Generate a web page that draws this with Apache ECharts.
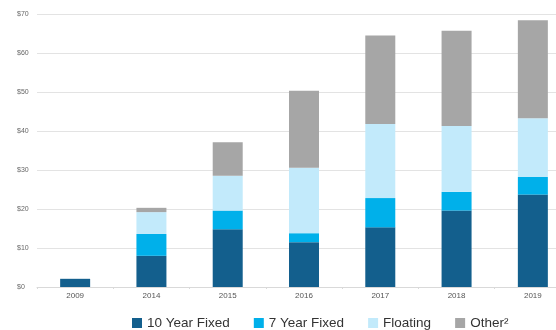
<!DOCTYPE html>
<html><head><meta charset="utf-8">
<script src="https://cdn.jsdelivr.net/npm/echarts@6/dist/echarts.min.js"></script>
<style>html,body{margin:0;padding:0;background:#fff}#c{width:556px;height:330px}</style>
</head><body><div id="c"></div>
<script>
const years = ['2009','2014','2015','2016','2017','2018','2019'];
const tenYearFixed = [2.1, 8.0, 14.8, 11.5, 15.3, 19.6, 23.7];
const sevenYearFixed = [0, 5.6, 4.8, 2.3, 7.5, 4.8, 4.5];
const floating = [0, 5.6, 8.9, 16.8, 19.0, 16.9, 15.1];
const other = [0, 1.1, 8.6, 19.7, 22.7, 24.4, 25.1];
const seriesNames = ['10 Year Fixed', '7 Year Fixed', 'Floating', 'Other²'];
const colors = ['#135f8d', '#00b0ea', '#c2eafb', '#a6a6a6'];

const chart = echarts.init(document.getElementById('c'), null, {renderer: 'canvas'});
const dataSets = [tenYearFixed, sevenYearFixed, floating, other];
chart.setOption({
  animation: false,
  color: colors,
  grid: {left: 37, width: 534, top: 14, height: 273, containLabel: false, outerBoundsMode: 'none'},
  legend: {
    top: 311, left: 127, itemWidth: 10, itemHeight: 10, itemGap: 24,
    icon: 'rect',
    textStyle: {fontFamily: 'Liberation Sans, Arial, sans-serif', fontSize: 13.5, color: '#333'},
    data: seriesNames
  },
  xAxis: {
    type: 'category', data: years,
    axisLine: {lineStyle: {color: '#d9d9d9'}},
    axisTick: {show: true, length: 2, lineStyle: {color: '#d9d9d9'}},
    axisLabel: {fontSize: 8, color: '#555', margin: 5, fontFamily: 'Liberation Sans, Arial, sans-serif'}
  },
  yAxis: {
    type: 'value', min: 0, max: 70, interval: 10,
    axisLine: {show: false}, axisTick: {show: false},
    splitLine: {lineStyle: {color: '#e3e3e3', width: 1}},
    axisLabel: {formatter: '${value}', fontSize: 7, color: '#666', align: 'left', margin: 20, fontFamily: 'Liberation Sans, Arial, sans-serif'}
  },
  series: seriesNames.map((n, i) => ({
    name: n, type: 'bar', stack: 'total', barWidth: 30,
    data: dataSets[i]
  }))
});
</script></body></html>
